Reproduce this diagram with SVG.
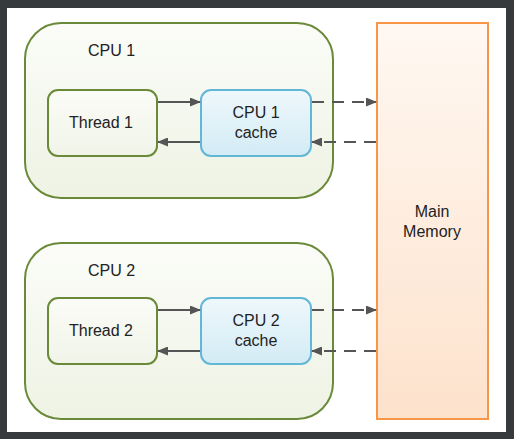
<svg xmlns="http://www.w3.org/2000/svg" width="514" height="439" viewBox="0 0 514 439">
<defs>
<linearGradient id="gCpu" x1="0" y1="0" x2="0" y2="1"><stop offset="0" stop-color="#fbfcf8"/><stop offset="1" stop-color="#eef3e4"/></linearGradient>
<linearGradient id="gThr" x1="0" y1="0" x2="0" y2="1"><stop offset="0" stop-color="#fbfcf7"/><stop offset="1" stop-color="#f0f4e8"/></linearGradient>
<linearGradient id="gCache" x1="0" y1="0" x2="0" y2="1"><stop offset="0" stop-color="#eef8fc"/><stop offset="1" stop-color="#d3ebf5"/></linearGradient>
<linearGradient id="gMem" x1="0" y1="0" x2="0" y2="1"><stop offset="0" stop-color="#fff8f2"/><stop offset="1" stop-color="#fde2cc"/></linearGradient>
<marker id="ah" markerWidth="11" markerHeight="9" refX="10" refY="4.5" orient="auto" markerUnits="userSpaceOnUse"><path d="M0,0 L11,4.5 L0,9 Z" fill="#555"/></marker>
</defs>
<style>
.cpu{fill:url(#gCpu);stroke:#6a8a3a;stroke-width:2}
.thr{fill:url(#gThr);stroke:#6a8a3a;stroke-width:2}
.cache{fill:url(#gCache);stroke:#62b6d6;stroke-width:2}
.mem{fill:url(#gMem);stroke:#f79646;stroke-width:2}
text{font-family:"Liberation Sans",Arial,sans-serif;font-size:16px;fill:#222}
.c{text-anchor:middle}
.ln{stroke:#555;stroke-width:2;fill:none}
.d{stroke-dasharray:12,8}
</style>
<rect x="0" y="0" width="514" height="439" fill="#363a3d"/>
<rect x="7" y="8" width="499" height="424" fill="#ffffff"/>
<g id="cpu1"><rect class="cpu" x="25" y="23" width="308" height="175" rx="36"/><text x="88" y="56">CPU 1</text></g>
<g id="cpu2"><rect class="cpu" x="25" y="243" width="308" height="176" rx="36"/><text x="88" y="276">CPU 2</text></g>
<g id="memory"><rect class="mem" x="377" y="23" width="111" height="396"/><text class="c" x="432" y="217">Main</text><text class="c" x="432" y="237">Memory</text></g>
<g id="thread1"><rect class="thr" x="48" y="90" width="109" height="66" rx="10"/><text class="c" x="101" y="128">Thread 1</text></g>
<g id="thread2"><rect class="thr" x="48" y="298" width="109" height="66" rx="10"/><text class="c" x="101" y="336">Thread 2</text></g>
<g id="cache1"><rect class="cache" x="201" y="90" width="110" height="66" rx="10"/><text class="c" x="256" y="118">CPU 1</text><text class="c" x="256" y="138">cache</text></g>
<g id="cache2"><rect class="cache" x="201" y="298" width="110" height="66" rx="10"/><text class="c" x="256" y="326">CPU 2</text><text class="c" x="256" y="346">cache</text></g>
<g id="connectors">
<line class="ln" x1="158" y1="102" x2="200" y2="102" marker-end="url(#ah)"/>
<line class="ln" x1="200" y1="142" x2="158" y2="142" marker-end="url(#ah)"/>
<line class="ln d" x1="312" y1="102" x2="376" y2="102" marker-end="url(#ah)"/>
<line class="ln d" x1="376" y1="142" x2="312" y2="142" marker-end="url(#ah)"/>
<line class="ln" x1="158" y1="310" x2="200" y2="310" marker-end="url(#ah)"/>
<line class="ln" x1="200" y1="351" x2="158" y2="351" marker-end="url(#ah)"/>
<line class="ln d" x1="312" y1="310" x2="376" y2="310" marker-end="url(#ah)"/>
<line class="ln d" x1="376" y1="351" x2="312" y2="351" marker-end="url(#ah)"/>
</g>
</svg>
